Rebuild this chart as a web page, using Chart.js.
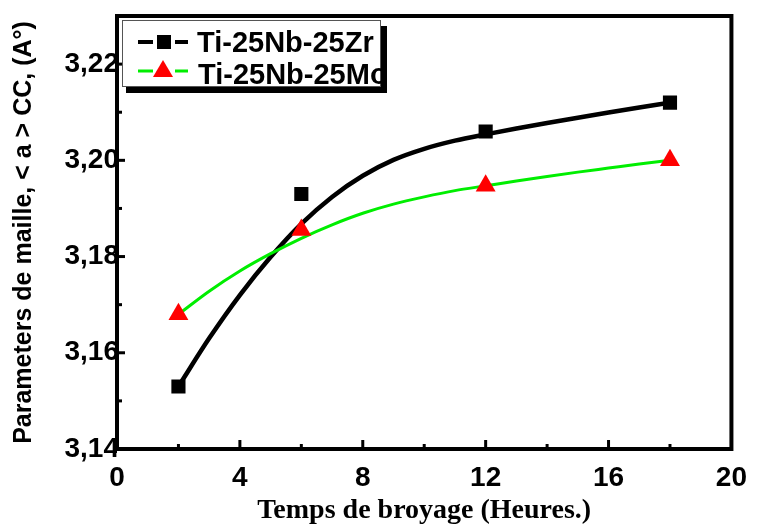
<!DOCTYPE html>
<html>
<head>
<meta charset="utf-8">
<script src="https://cdn.jsdelivr.net/npm/chart.js@4.4.1/dist/chart.umd.min.js"></script>
<style>
html,body{margin:0;padding:0;background:#fff;}
#wrap{width:759px;height:525px;position:relative;}
</style>
</head>
<body>
<div id="wrap"><canvas id="c" width="759" height="525"></canvas></div>
<script>
// ---- data ----
const seriesNames = ['Ti-25Nb-25Zr', 'Ti-25Nb-25Mo'];
const hours = [2, 6, 12, 18];
const zrValues = [3.153, 3.193, 3.206, 3.212];
const moValues = [3.168, 3.1855, 3.1947, 3.200];
// fitted curves
const fitHours = [2, 3, 4, 5, 6, 7, 8, 9, 10, 11, 12, 13, 14, 15, 16, 17, 18];
const zrFit = [3.1530, 3.1630, 3.1720, 3.1799, 3.1868, 3.1924, 3.1968, 3.2001, 3.2024, 3.2041, 3.2054, 3.2066, 3.20775, 3.20885, 3.20995, 3.2110, 3.2120];
const moFit = [3.1680, 3.1728, 3.1770, 3.1806, 3.1838, 3.1866, 3.1890, 3.1909, 3.1924, 3.1937, 3.1947, 3.1957, 3.19665, 3.19755, 3.1984, 3.19925, 3.2000];
// ticks
const xTicks = [0, 4, 8, 12, 16, 20];
const xMinorTicks = [2, 6, 10, 14, 18];
const yTicks = [3.14, 3.16, 3.18, 3.20, 3.22];
const yTickLabels = ['3,14', '3,16', '3,18', '3,20', '3,22'];
const yMinorTicks = [3.15, 3.17, 3.19, 3.21];
const xTitle = 'Temps de broyage (Heures.)';
const yTitle = 'Parameters de maille, < a > CC, (A°)';

const SANS = "'Liberation Sans', Arial, sans-serif";
const SERIF = "'Liberation Serif', 'Times New Roman', serif";

const framePlugin = {
  id: 'frame',
  afterDatasetsDraw(chart) {
    const {ctx, chartArea: a, scales: {x, y}} = chart;
    ctx.save();
    ctx.strokeStyle = '#000';
    ctx.lineJoin = 'miter';
    ctx.lineWidth = 4;
    ctx.strokeRect(a.left, a.top, a.right - a.left, a.bottom - a.top);
    const seg = (x1, y1, x2, y2, w) => { ctx.lineWidth = w; ctx.beginPath(); ctx.moveTo(x1, y1); ctx.lineTo(x2, y2); ctx.stroke(); };
    xTicks.forEach(v => { const p = x.getPixelForValue(v); seg(p, a.bottom, p, a.bottom - 9, 3); });
    xMinorTicks.forEach(v => { const p = x.getPixelForValue(v); seg(p, a.bottom, p, a.bottom - 5, 3); });
    yTicks.forEach(v => { const p = y.getPixelForValue(v); seg(a.left - 2, p, a.left + 8, p, 3); });
    yMinorTicks.forEach(v => { const p = y.getPixelForValue(v); seg(a.left, p, a.left + 5, p, 3); });
    ctx.restore();
  }
};

const legendPlugin = {
  id: 'boxLegend',
  afterDraw(chart) {
    const {ctx, chartArea: a} = chart;
    const L = a.left + 5, T = a.top + 4, W = 259, H = 67, S = 6;
    ctx.save();
    ctx.fillStyle = '#000';
    ctx.fillRect(L + 4, T + S, W + 2, H);
    ctx.fillStyle = '#fff';
    ctx.fillRect(L, T, W, H);
    ctx.strokeStyle = '#555';
    ctx.lineWidth = 1;
    ctx.strokeRect(L + 0.5, T + 0.5, W - 1, H - 1);
    ctx.beginPath();
    ctx.rect(L, T, W, H);
    ctx.clip();
    const r1 = T + 22, r2 = T + 51;
    // row 1
    ctx.strokeStyle = '#000';
    ctx.lineWidth = 4;
    ctx.beginPath(); ctx.moveTo(L + 16, r1); ctx.lineTo(L + 66, r1); ctx.stroke();
    ctx.fillStyle = '#fff';
    ctx.fillRect(L + 31, r1 - 3, 22, 6);
    ctx.fillStyle = '#000';
    ctx.fillRect(L + 35, r1 - 7, 14, 14);
    // row 2
    ctx.strokeStyle = '#00ee00';
    ctx.lineWidth = 3;
    ctx.beginPath(); ctx.moveTo(L + 16, r2); ctx.lineTo(L + 66, r2); ctx.stroke();
    ctx.fillStyle = '#fff';
    ctx.fillRect(L + 31, r2 - 3, 22, 6);
    ctx.fillStyle = '#ff0000';
    ctx.beginPath();
    ctx.moveTo(L + 41, r2 - 11);
    ctx.lineTo(L + 51, r2 + 6);
    ctx.lineTo(L + 31, r2 + 6);
    ctx.closePath(); ctx.fill();
    ctx.fillStyle = '#000';
    ctx.font = "bold 29px " + SANS;
    ctx.textBaseline = 'alphabetic';
    ctx.textAlign = 'left';
    ctx.fillText(seriesNames[0], L + 75, r1 + 10);
    ctx.fillText(seriesNames[1], L + 76, r2 + 13);
    ctx.restore();
  }
};

const toXY = (xs, ys) => xs.map((v, i) => ({x: v, y: ys[i]}));

new Chart(document.getElementById('c'), {
  type: 'scatter',
  data: {
    datasets: [
      {label: seriesNames[0], data: toXY(hours, zrValues), pointStyle: 'rect', pointRadius: 10, backgroundColor: '#000', borderColor: '#000', borderWidth: 0, showLine: false, order: 0},
      {label: seriesNames[1], data: toXY(hours, moValues), pointStyle: 'triangle', pointRadius: 11.5, backgroundColor: '#ff0000', borderColor: '#ff0000', borderWidth: 0, showLine: false, order: 0},
      {label: seriesNames[0] + ' fit', data: toXY(fitHours, zrFit), showLine: true, pointRadius: 0, borderColor: '#000', borderWidth: 4.5, cubicInterpolationMode: 'monotone', order: 2},
      {label: seriesNames[1] + ' fit', data: toXY(fitHours, moFit), showLine: true, pointRadius: 0, borderColor: '#00ee00', borderWidth: 3, cubicInterpolationMode: 'monotone', order: 1}
    ]
  },
  options: {
    responsive: false,
    animation: false,
    devicePixelRatio: 1,
    layout: {padding: {left: 0, top: 16, right: 23, bottom: 0}},
    plugins: {legend: {display: false}, tooltip: {enabled: false}},
    scales: {
      x: {
        type: 'linear', min: 0, max: 20,
        afterFit(s) { s.height = 76; },
        afterBuildTicks(s) { s.ticks = xTicks.map(v => ({value: v})); },
        grid: {display: false, drawTicks: false},
        border: {display: false},
        ticks: {font: {family: SANS, weight: 'bold', size: 28}, color: '#000', padding: 12, maxRotation: 0, autoSkip: false},
        title: {display: true, text: xTitle, font: {family: SERIF, weight: 'bold', size: 28}, color: '#000', padding: {top: 0, bottom: -3}}
      },
      y: {
        type: 'linear', min: 3.14, max: 3.23,
        afterFit(s) { s.width = 117; },
        afterBuildTicks(s) { s.ticks = yTicks.map(v => ({value: v})); },
        grid: {display: false, drawTicks: false},
        border: {display: false},
        ticks: {font: {family: SANS, weight: 'bold', size: 28}, color: '#000', padding: -2, autoSkip: false,
          callback: (v, i) => yTickLabels[i]},
        title: {display: true, text: yTitle, font: {family: SANS, weight: 'bold', size: 25}, color: '#000', padding: {top: 9, bottom: 0}}
      }
    }
  },
  plugins: [framePlugin, legendPlugin]
});
</script>
</body>
</html>
